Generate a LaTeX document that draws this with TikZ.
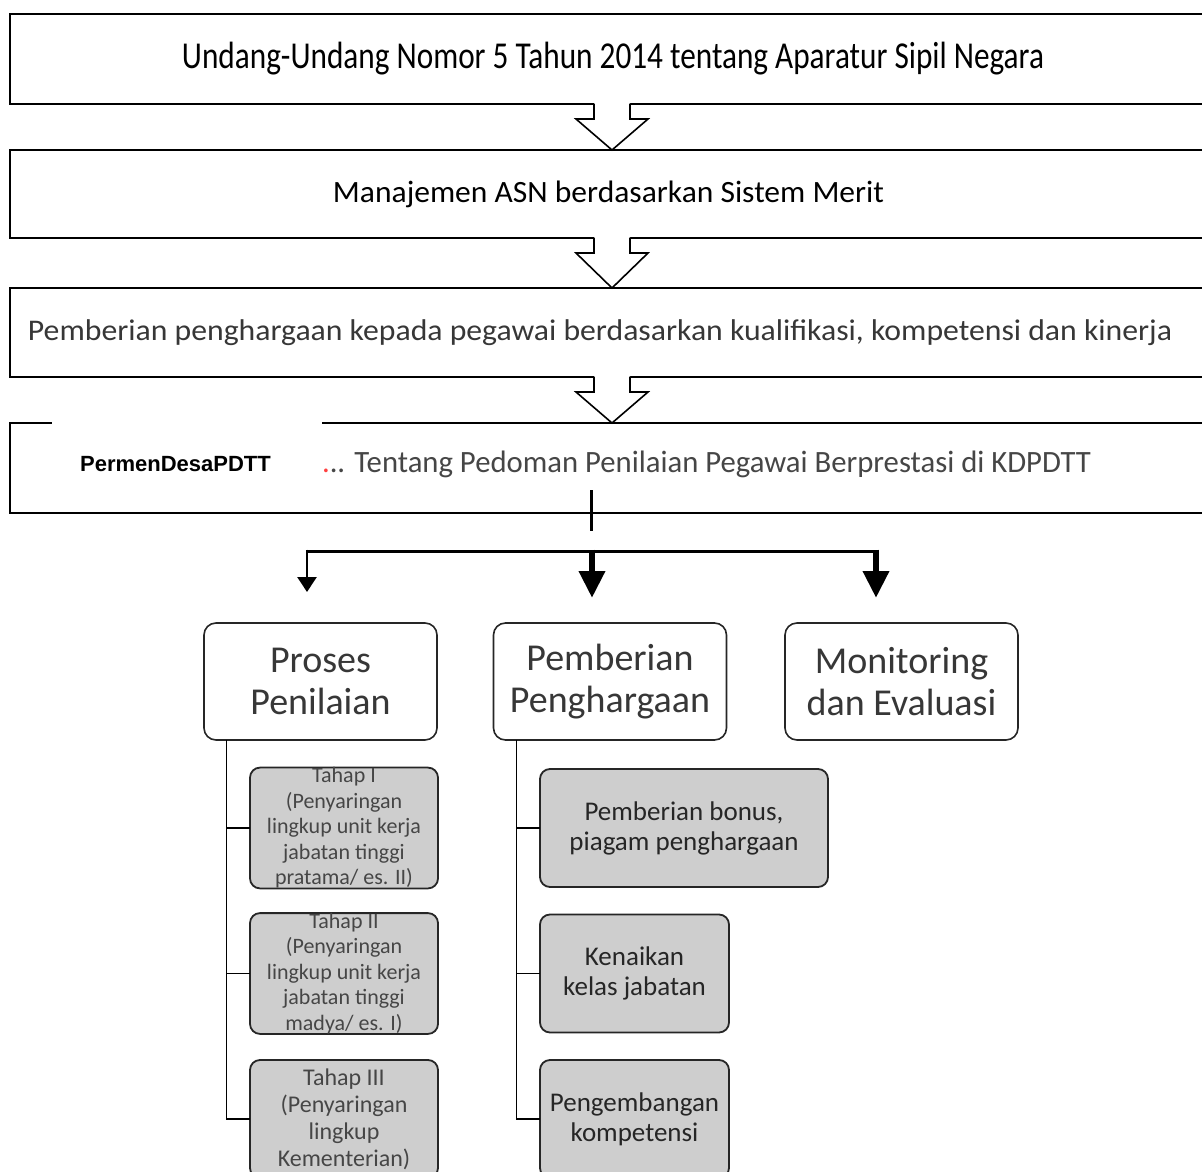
\documentclass[tikz,border=0pt]{standalone}
\usepackage{fontspec}
\setmainfont{Carlito}
\newfontfamily\arialfont{Liberation Sans}
\usetikzlibrary{arrows.meta,calc}
\definecolor{subfill}{RGB}{206,206,206}
\definecolor{txtgray}{RGB}{55,55,55}
\definecolor{lightgray}{RGB}{70,70,70}
\newcommand{\hollowarrow}[2]{%
  \fill[white] ($(#1.south)+(-18,-1.5)$) -- ($(#1.south)+(-18,15)$) -- ($(#1.south)+(-36,15)$) -- (#2.north) -- ($(#1.south)+(36,15)$) -- ($(#1.south)+(18,15)$) -- ($(#1.south)+(18,-1.5)$) -- cycle;
  \draw[line width=1.6pt, line join=miter] ($(#1.south)+(-18,-0.5)$) -- ($(#1.south)+(-18,15)$) -- ($(#1.south)+(-36,15)$) -- (#2.north) -- ($(#1.south)+(36,15)$) -- ($(#1.south)+(18,15)$) -- ($(#1.south)+(18,-0.5)$);
}
\begin{document}
\begin{tikzpicture}[x=1pt,y=-1pt,
  bigbox/.style={draw=black, line width=2pt, fill=white, inner sep=0pt, outer sep=0pt, minimum width=1204pt},
  lvltwo/.style={draw=black!85, line width=1.6pt, fill=white, rounded corners=12pt, inner sep=0pt, outer sep=0pt,
    minimum width=233pt, minimum height=117pt, align=center, text=txtgray, font=\fontsize{38}{42}\selectfont},
  subbox/.style={draw=black!85, line width=1.8pt, fill=subfill, rounded corners=10pt, inner sep=0pt, outer sep=0pt,
    minimum height=118pt, align=center},
  tahap/.style={subbox, minimum width=188pt, text=lightgray, font=\fontsize{22}{25.5}\selectfont},
  reward/.style={subbox, text=black!85, font=\fontsize{27}{30}\selectfont},
  tree/.style={draw=black, line width=1.5pt}
]
\useasboundingbox (0,0) rectangle (1202,1172);

% big boxes
\node[bigbox, minimum height=90pt] (b1) at (612,59) {};
\node[inner sep=0pt] (t1) at (613,59)
  {\resizebox{862pt}{\height}{\fontsize{38}{42}\selectfont Undang-Undang Nomor 5 Tahun 2014 tentang Aparatur Sipil Negara}};
\node[bigbox, minimum height=88pt] (b2) at (612,194) {};
\node[inner sep=0pt] (t2) at (608.5,194)
  {\resizebox{551pt}{\height}{\fontsize{31}{36}\selectfont Manajemen ASN berdasarkan Sistem Merit}};
\node[bigbox, minimum height=89pt] (b3) at (612,332.5) {};
\node[inner sep=0pt, text=txtgray] (t3) at (600,332.5)
  {\resizebox{1144pt}{\height}{\fontsize{30}{36}\selectfont Pemberian penghargaan kepada pegawai berdasarkan kualifikasi, kompetensi dan kinerja}};
\node[bigbox, minimum height=90pt] (b4) at (612,468) {};

\hollowarrow{b1}{b2}
\hollowarrow{b2}{b3}
\hollowarrow{b3}{b4}

% box 4 contents
\fill[white] (52,420) rectangle (322,500);
\node[inner sep=0pt] (pm) at (175.5,464) {\arialfont\bfseries\fontsize{22}{26}\selectfont PermenDesaPDTT};
\node[inner sep=0pt, text=lightgray] (t4) at (706.5,464)
  {\resizebox{769pt}{\height}{\fontsize{31}{36}\selectfont{\color{red!75}.}.. Tentang Pedoman Penilaian Pegawai Berprestasi di KDPDTT}};

% level 2 boxes
\node[lvltwo] (p1) at (320.5,681.5) {Proses\\Penilaian};
\node[lvltwo] (p2) at (610,681.5) {Pemberian\\Penghargaan};
\node[lvltwo] (p3) at (901.5,681.5) {Monitoring\\dan Evaluasi};

% distribution connectors
\coordinate (stubtop) at (591,490);
\coordinate (stubbot) at (591,531);
\coordinate (barL) at (307,551);
\coordinate (barM) at (592,551);
\coordinate (barR) at (876,551);
\coordinate (tipL) at (307,592);
\coordinate (tipM) at (592,598);
\coordinate (tipR) at (876,598);
\draw[line width=3pt] (stubtop) -- (stubbot);
\draw[line width=3pt] ($(barL)+(-1.25,0)$) -- ($(barR)+(3,0)$);
\draw[line width=2.5pt, -{Triangle[width=19pt,length=15pt]}] ($(barL)+(0,-1.5)$) -- (tipL);
\draw[line width=6.5pt, -{Triangle[width=25pt,length=27pt]}] ($(barM)+(0,-1.5)$) -- (tipM);
\draw[line width=6.5pt, -{Triangle[width=25pt,length=27pt]}] ($(barR)+(0,-1.5)$) -- (tipR);

% sub boxes under Proses Penilaian
\node[tahap] (s1) at (344,828) {Tahap I\\(Penyaringan\\lingkup unit kerja\\jabatan tinggi\\pratama/ es. II)};
\node[tahap] (s2) at (344,973.5) {Tahap II\\(Penyaringan\\lingkup unit kerja\\jabatan tinggi\\madya/ es. I)};
\node[tahap, font=\fontsize{24}{27}\selectfont] (s3) at (344,1119) {Tahap III\\(Penyaringan\\lingkup\\Kementerian)};

% sub boxes under Pemberian Penghargaan
\node[reward, minimum width=288pt] (q1) at (684,828) {Pemberian bonus,\\piagam penghargaan};
\node[reward, minimum width=189pt] (q2) at (634.5,973.5) {Kenaikan\\kelas jabatan};
\node[reward, minimum width=189pt] (q3) at (634.5,1119) {Pengembangan\\kompetensi};

% tree connectors
\draw[tree] ($(p1.south west)+(22.5,0)$) |- (s3.west);
\draw[tree] ($(p1.south west)+(22.5,0)$) |- (s1.west);
\draw[tree] ($(p1.south west)+(22.5,0)$) |- (s2.west);
\draw[tree] ($(p2.south west)+(23,0)$) |- (q3.west);
\draw[tree] ($(p2.south west)+(23,0)$) |- (q1.west);
\draw[tree] ($(p2.south west)+(23,0)$) |- (q2.west);
\end{tikzpicture}
\end{document}
